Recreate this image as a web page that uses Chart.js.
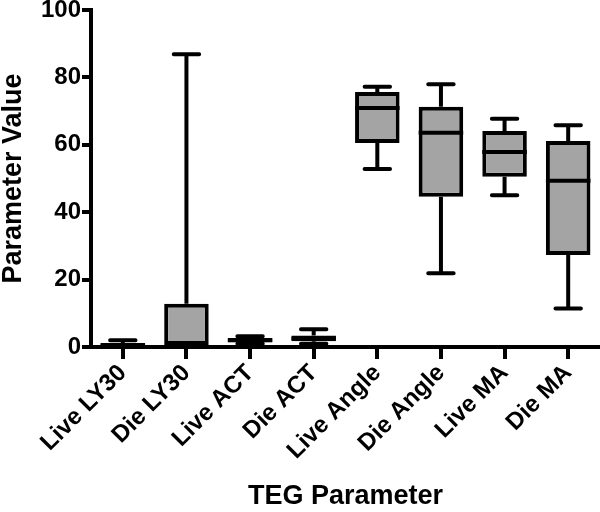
<!DOCTYPE html>
<html>
<head>
<meta charset="utf-8">
<script src="https://cdn.jsdelivr.net/npm/chart.js@4/dist/chart.umd.min.js"></script>
<style>
html,body{margin:0;padding:0;background:#fff;}
#wrap{width:600px;height:512px;}
</style>
</head>
<body>
<div id="wrap"><canvas id="c" width="600" height="512"></canvas></div>
<script>
const categories = ["Live LY30","Die LY30","Live ACT","Die ACT","Live Angle","Die Angle","Live MA","Die MA"];
const minValues    = [0,   0,    1.0, 1.0, 52.8, 21.9, 45.0, 11.4];
const q1Values     = [0,   0,    1.4, 1.7, 60.5, 44.6, 50.5, 27.3];
const medianValues = [0.5, 0,    2.0, 2.5, 70.9, 63.6, 57.9, 49.3];
const q3Values     = [1.2, 12.8, 2.7, 3.4, 75.7, 71.3, 64.1, 61.1];
const maxValues    = [2.0, 86.9, 3.2, 5.3, 77.2, 78.0, 67.7, 65.8];
const yTicks = [0,20,40,60,80,100];

const boxData = categories.map((c,i)=>[q1Values[i], q3Values[i]]);

const FONT = "'Liberation Sans', Arial, sans-serif";

const whiskerPlugin = {
  id: 'whiskers',
  beforeDatasetsDraw(chart){
    const meta = chart.getDatasetMeta(0);
    const y = chart.scales.y;
    const ctx = chart.ctx;
    ctx.save();
    ctx.strokeStyle = '#000';
    ctx.lineWidth = 4;
    meta.data.forEach((bar,i)=>{
      const x = bar.x;
      const capW = bar.width*0.57;
      const yMax = y.getPixelForValue(maxValues[i]);
      const yMin = y.getPixelForValue(minValues[i]);
      const yQ1 = y.getPixelForValue(q1Values[i]);
      const yQ3 = y.getPixelForValue(q3Values[i]);
      ctx.lineCap = 'butt';
      ctx.beginPath();
      ctx.moveTo(x,yMax); ctx.lineTo(x,yQ3);
      ctx.moveTo(x,yQ1); ctx.lineTo(x,yMin);
      ctx.stroke();
      ctx.lineCap = 'round';
      ctx.beginPath();
      ctx.moveTo(x-capW/2,yMax); ctx.lineTo(x+capW/2,yMax);
      ctx.moveTo(x-capW/2,yMin); ctx.lineTo(x+capW/2,yMin);
      ctx.stroke();
    });
    ctx.restore();
  },
  afterDatasetsDraw(chart){
    const meta = chart.getDatasetMeta(0);
    const y = chart.scales.y;
    const ctx = chart.ctx;
    ctx.save();
    ctx.strokeStyle = '#000';
    ctx.lineWidth = 4;
    meta.data.forEach((bar,i)=>{
      const x = bar.x;
      const w = bar.width;
      const yMed = y.getPixelForValue(medianValues[i]);
      ctx.beginPath();
      ctx.moveTo(x-w/2,yMed); ctx.lineTo(x+w/2,yMed);
      ctx.stroke();
    });
    ctx.restore();
  }
};

new Chart(document.getElementById('c'), {
  type: 'bar',
  data: {
    labels: categories,
    datasets: [{
      data: boxData,
      backgroundColor: '#a4a4a4',
      borderColor: '#000',
      borderWidth: 4,
      borderSkipped: false,
      barPercentage: 0.7,
      categoryPercentage: 1.0,
      clip: false
    }]
  },
  options: {
    responsive: false,
    animation: false,
    layout: { padding: { top: 10, right: 0, left: 0, bottom: 0 } },
    plugins: { legend: { display: false }, tooltip: { enabled: false } },
    scales: {
      x: {
        offset: true,
        afterFit(s){ s.height = 165; s.paddingLeft = 0; s.paddingRight = 0; },
        grid: { display: true, drawOnChartArea: false, drawTicks: true, tickLength: 12, lineWidth: 4, color: '#000', offset: false },
        border: { display: true, width: 4, color: '#000' },
        ticks: { color: '#000', font: { family: FONT, size: 24, weight: 'bold' }, maxRotation: 45, minRotation: 45, padding: 0 },
        title: { display: true, text: 'TEG Parameter', color: '#000', font: { family: FONT, size: 27, weight: 'bold', lineHeight: 1.0 }, padding: { top: 0, bottom: 2 } }
      },
      y: {
        min: 0, max: 100,
        afterBuildTicks(axis){ axis.ticks = yTicks.map(v=>({value:v})); },
        afterFit(s){ s.width = 91; s.paddingTop = 0; s.paddingBottom = 0; },
        grid: { display: true, drawOnChartArea: false, drawTicks: true, tickLength: 9, lineWidth: 4, color: '#000' },
        border: { display: true, width: 4, color: '#000' },
        ticks: { color: '#000', font: { family: FONT, size: 24, weight: 'bold' }, padding: 1 },
        title: { display: true, text: 'Parameter Value', color: '#000', font: { family: FONT, size: 27, weight: 'bold', lineHeight: 1.0 }, padding: { top: 0, bottom: 0 } }
      }
    }
  },
  plugins: [whiskerPlugin]
});
</script>
</body>
</html>
